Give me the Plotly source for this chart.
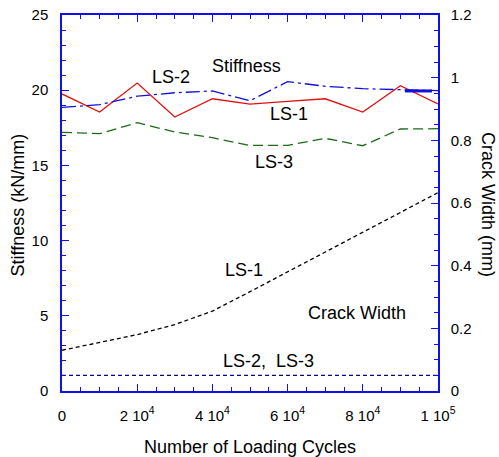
import plotly.graph_objects as go

cycles = [0, 10000, 20000, 30000, 40000, 50000, 60000, 70000, 80000, 90000, 100000]
stiff_ls1 = [19.75, 18.55, 20.48, 18.22, 19.43, 19.08, 19.26, 19.43, 18.55, 20.3, 19.08]
stiff_ls2 = [18.86, 19.04, 19.6, 19.83, 19.95, 19.3, 20.57, 20.26, 20.1, 20.01, 19.97]
stiff_ls3 = [17.2, 17.11, 17.84, 17.22, 16.84, 16.33, 16.33, 16.8, 16.31, 17.42, 17.44]
crack_ls1 = [0.13, 0.155, 0.18, 0.212, 0.255, 0.317, 0.38, 0.443, 0.506, 0.57, 0.633]
crack_x23 = [0, 100000]
crack_ls23 = [0.05, 0.05]
ls2_bold_x = [91200, 98400]
ls2_bold_y = [19.95, 19.95]

xtick_vals = [0, 20000, 40000, 60000, 80000, 100000]
xtick_text = ["0", "2 10<sup>4</sup>", "4 10<sup>4</sup>", "6 10<sup>4</sup>", "8 10<sup>4</sup>", "1 10<sup>5</sup>"]

FONT = "Liberation Sans, Arial, sans-serif"
AX = "#1010e8"
L, R, T, B = 62, 61, 15, 66
W, H = 499, 457
PW, PH = W - L - R, H - T - B

fig = go.Figure()
fig.add_trace(go.Scatter(x=cycles, y=stiff_ls1, mode="lines", line=dict(color="#e01010", width=1.3)))
fig.add_trace(go.Scatter(x=cycles, y=stiff_ls2, mode="lines",
                         line=dict(color="#1010d8", width=1.3, dash="14px,4px,3px,4px")))
fig.add_trace(go.Scatter(x=ls2_bold_x, y=ls2_bold_y, mode="lines",
                         line=dict(color="#1010d8", width=3)))
fig.add_trace(go.Scatter(x=cycles, y=stiff_ls3, mode="lines",
                         line=dict(color="#1a6a1a", width=1.3, dash="10px,5px")))
fig.add_trace(go.Scatter(x=cycles, y=crack_ls1, mode="lines", yaxis="y2",
                         line=dict(color="black", width=1.3, dash="4px,3px")))
fig.add_trace(go.Scatter(x=crack_x23, y=crack_ls23, mode="lines", yaxis="y2",
                         line=dict(color="#0a0a70", width=1.2, dash="4px,3px")))

annos = [
    ("Stiffness", 49200, 21.6),
    ("LS-2", 29000, 20.9),
    ("LS-1", 60300, 18.4),
    ("LS-3", 56300, 15.2),
    ("LS-1", 48400, 8.05),
    ("Crack Width", 78500, 5.2),
    ("LS-2,  LS-3", 54800, 2.0),
]
for t, ax_, ay_ in annos:
    fig.add_annotation(text=t, x=ax_, y=ay_, xref="x", yref="y", showarrow=False,
                       font=dict(family=FONT, size=18, color="black"))

def px2paper(px, py):
    return (px - L) / PW, (H - B - py) / PH

x1, y1 = px2paper(17.5, 205)
fig.add_annotation(text="Stiffness (kN/mm)", x=x1, y=y1, xref="paper", yref="paper",
                   xanchor="center", yanchor="middle",
                   showarrow=False, textangle=-90, font=dict(family=FONT, size=18, color="black"))
x2, y2 = px2paper(488, 204)
fig.add_annotation(text="Crack Width (mm)", x=x2, y=y2, xref="paper", yref="paper",
                   xanchor="center", yanchor="middle",
                   showarrow=False, textangle=90, font=dict(family=FONT, size=18, color="black"))

fig.update_layout(
    width=W, height=H,
    margin=dict(l=L, r=R, t=T, b=B, autoexpand=False),
    paper_bgcolor="white", plot_bgcolor="white",
    showlegend=False,
    font=dict(family=FONT, size=15, color="black"),
    xaxis=dict(range=[0, 100000], tickvals=xtick_vals, ticktext=xtick_text,
               showline=True, linecolor=AX, linewidth=1.5, mirror="ticks",
               ticks="inside", ticklen=7, tickcolor=AX, tickwidth=1,
               minor=dict(dtick=5000, ticks="inside", ticklen=4, tickcolor=AX),
               showgrid=False, zeroline=False, ticklabelstandoff=10, automargin=False,
               tickfont=dict(size=15),
               title=dict(text="Number of Loading Cycles", font=dict(size=18), standoff=19)),
    yaxis=dict(range=[0, 25], dtick=5, showline=True, linecolor=AX, linewidth=1.5,
               ticks="inside", ticklen=7, tickcolor=AX,
               minor=dict(dtick=1, ticks="inside", ticklen=4, tickcolor=AX),
               showgrid=False, zeroline=False, ticklabelstandoff=9, automargin=False,
               tickfont=dict(size=15)),
    yaxis2=dict(range=[0, 1.2], dtick=0.2, overlaying="y", side="right",
                showline=True, linecolor=AX, linewidth=1.5,
                ticks="inside", ticklen=7, tickcolor=AX,
                minor=dict(dtick=0.05, ticks="inside", ticklen=4, tickcolor=AX),
                showgrid=False, zeroline=False, ticklabelstandoff=8, automargin=False,
                tickfont=dict(size=15)),
)

fig.write_html("out.html", config={"displayModeBar": False},
               post_script="document.body.style.margin='0';document.body.style.padding='0';")
